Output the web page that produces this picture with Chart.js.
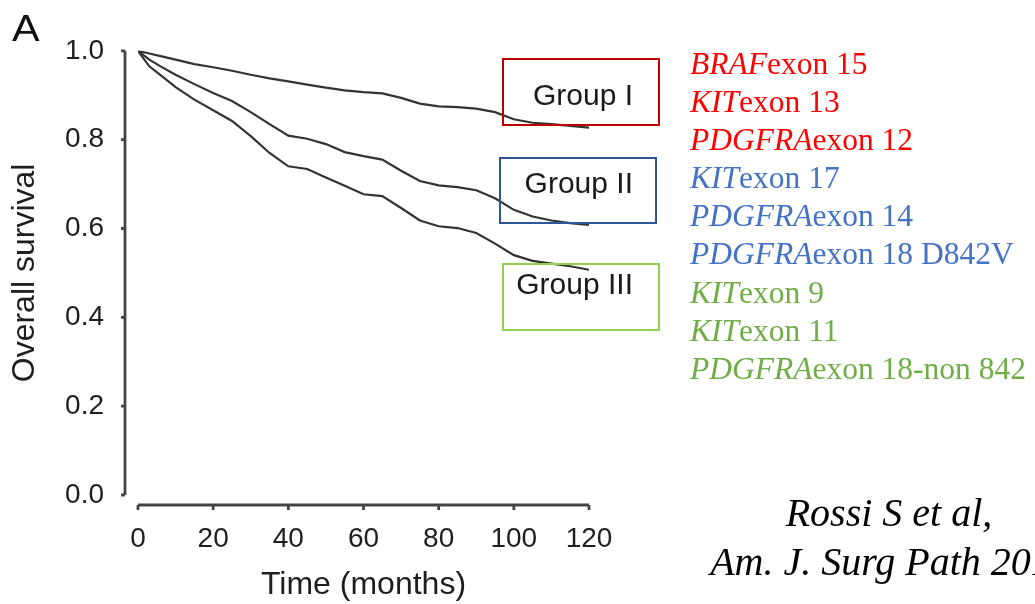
<!DOCTYPE html>
<html>
<head>
<meta charset="utf-8">
<script src="https://cdn.jsdelivr.net/npm/chart.js@4/dist/chart.umd.min.js"></script>
<style>
  body { margin: 0; background: #fff; }
  #wrap { position: relative; width: 1035px; height: 604px; overflow: hidden; }
  .box { position: absolute; box-sizing: border-box; border: 2.5px solid; }
  .grp { position: absolute; font-family: "Liberation Sans", Arial, sans-serif; font-size: 30px; color: #1a1a1a; white-space: nowrap; }
  #panel { position: absolute; left: 12px; top: 8px; font-family: "Liberation Sans", Arial, sans-serif; font-size: 36px; color: #111; transform: scaleX(1.15); transform-origin: left top; }
  #genes { position: absolute; left: 690px; top: 45px; font-family: "Liberation Serif", "Times New Roman", serif; font-size: 31.5px; line-height: 38.1px; white-space: nowrap; }
  #genes i { font-style: italic; }
  #cite { position: absolute; left: 696px; top: 488px; width: 386px; text-align: center; font-family: "Liberation Serif", "Times New Roman", serif; font-style: italic; font-size: 40px; line-height: 49px; color: #000; white-space: nowrap; }
</style>
</head>
<body>
<div id="wrap">
  <canvas id="km"></canvas>
  <div id="panel">A</div>
  <div class="box" style="left:502px;top:58px;width:158px;height:68px;border-color:#c00000"></div>
  <div class="box" style="left:499px;top:157px;width:158px;height:67px;border-color:#2f5597"></div>
  <div class="box" style="left:502px;top:263px;width:158px;height:68px;border-color:#92d050"></div>
  <div class="grp" style="right:402px;top:78px">Group I</div>
  <div class="grp" style="right:402px;top:166px">Group II</div>
  <div class="grp" style="right:402px;top:267px">Group III</div>
  <div id="genes">
    <div style="color:#ff0000"><i>BRAF</i>exon 15</div>
    <div style="color:#ff0000"><i>KIT</i>exon 13</div>
    <div style="color:#ff0000"><i>PDGFRA</i>exon 12</div>
    <div style="color:#4472c4"><i>KIT</i>exon 17</div>
    <div style="color:#4472c4"><i>PDGFRA</i>exon 14</div>
    <div style="color:#4472c4"><i>PDGFRA</i>exon 18 D842V</div>
    <div style="color:#70ad47"><i>KIT</i>exon 9</div>
    <div style="color:#70ad47"><i>KIT</i>exon 11</div>
    <div style="color:#70ad47"><i>PDGFRA</i>exon 18-non 842</div>
  </div>
  <div id="cite">Rossi S et al,<br>Am. J. Surg Path 2011</div>
</div>
<script>
// Kaplan-Meier curves (months vs. survival fraction)
const months = [0, 3, 6, 10, 15, 20, 25, 30, 35, 40, 45, 50, 55, 60, 65, 70, 75, 80, 85, 90, 95, 100, 105, 110, 115, 120];
const groupI = [1.0, 0.994, 0.988, 0.980, 0.970, 0.963, 0.955, 0.946, 0.938, 0.931, 0.924, 0.917, 0.911, 0.907, 0.904, 0.894, 0.881, 0.875, 0.873, 0.870, 0.862, 0.846, 0.838, 0.835, 0.831, 0.827];
const groupII = [1.0, 0.980, 0.965, 0.946, 0.925, 0.905, 0.887, 0.862, 0.835, 0.809, 0.802, 0.790, 0.772, 0.763, 0.755, 0.730, 0.707, 0.697, 0.693, 0.686, 0.668, 0.642, 0.627, 0.618, 0.612, 0.608];
const groupIII = [1.0, 0.965, 0.945, 0.918, 0.890, 0.866, 0.842, 0.808, 0.770, 0.740, 0.734, 0.715, 0.696, 0.677, 0.673, 0.646, 0.618, 0.605, 0.601, 0.590, 0.566, 0.540, 0.527, 0.521, 0.515, 0.507];

const xTicks = [0, 20, 40, 60, 80, 100, 120];
const yTicks = [0, 0.2, 0.4, 0.6, 0.8, 1.0];

const LINE = '#333';
const AXIS = '#444';
const SANS = '"Liberation Sans", Arial, sans-serif';

function curve(label, values) {
  return {
    label: label,
    data: months.map((m, i) => ({ x: m, y: values[i] })),
    borderColor: LINE,
    borderWidth: 2.2,
    pointRadius: 0,
    tension: 0,
    fill: false
  };
}

// R-style axes, pulled away from the plot area
const detachedAxes = {
  id: 'detachedAxes',
  afterDraw(chart) {
    const { ctx, chartArea } = chart;
    const x = chart.scales.x, y = chart.scales.y;
    const ax = chartArea.left - 13;
    const ay = chartArea.bottom + 10;
    ctx.save();
    ctx.strokeStyle = AXIS;
    ctx.lineWidth = 2.8;
    ctx.beginPath();
    ctx.moveTo(ax, y.getPixelForValue(1));
    ctx.lineTo(ax, y.getPixelForValue(0));
    yTicks.forEach(v => {
      const p = y.getPixelForValue(v);
      ctx.moveTo(ax, p);
      ctx.lineTo(ax - 4, p);
    });
    ctx.moveTo(x.getPixelForValue(0), ay);
    ctx.lineTo(x.getPixelForValue(120), ay);
    xTicks.forEach(v => {
      const p = x.getPixelForValue(v);
      ctx.moveTo(p, ay);
      ctx.lineTo(p, ay + 5);
    });
    ctx.stroke();
    ctx.restore();
  }
};

new Chart(document.getElementById('km'), {
  type: 'line',
  data: {
    datasets: [curve('Group I', groupI), curve('Group II', groupII), curve('Group III', groupIII)]
  },
  options: {
    responsive: true,
    maintainAspectRatio: false,
    animation: false,
    layout: { padding: { top: 45, right: 446, left: 0, bottom: 0 } },
    plugins: { legend: { display: false }, tooltip: { enabled: false } },
    scales: {
      x: {
        type: 'linear',
        min: 0,
        max: 120,
        afterBuildTicks: s => { s.ticks = xTicks.map(v => ({ value: v })); },
        afterFit: s => { s.height = 109; },
        grid: { display: false, drawTicks: false },
        border: { display: false },
        ticks: { color: '#1e1e1e', font: { family: SANS, size: 28 }, padding: 27, maxRotation: 0 },
        title: { display: true, text: 'Time (months)', color: '#1e1e1e', font: { family: SANS, size: 32 }, padding: 0 }
      },
      y: {
        min: 0,
        max: 1,
        afterBuildTicks: s => { s.ticks = yTicks.map(v => ({ value: v })); },
        afterFit: s => { s.width = 138; },
        grid: { display: false, drawTicks: false },
        border: { display: false },
        ticks: { color: '#1e1e1e', font: { family: SANS, size: 28 }, padding: 34, callback: v => v.toFixed(1) },
        title: { display: true, text: 'Overall survival', color: '#1e1e1e', font: { family: SANS, size: 32 }, padding: { top: 6, bottom: 0 } }
      }
    }
  },
  plugins: [detachedAxes]
});
</script>
</body>
</html>
